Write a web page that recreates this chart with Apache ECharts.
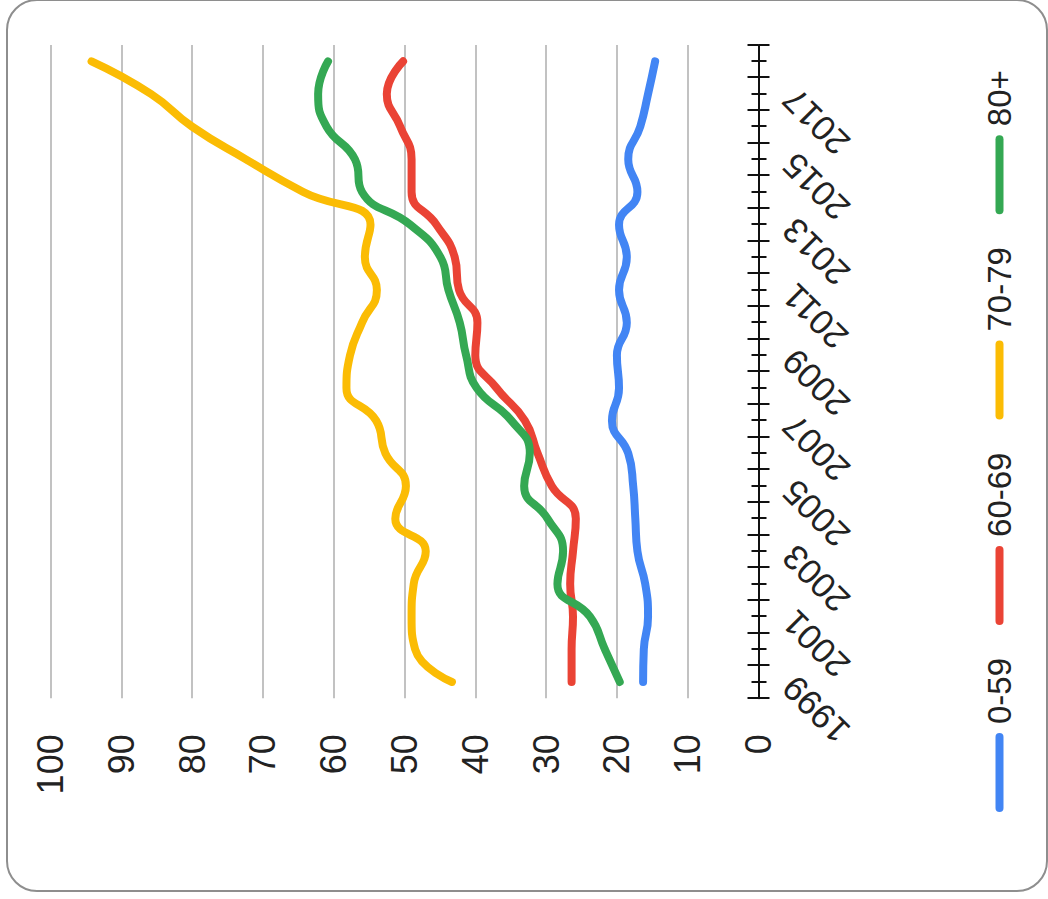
<!DOCTYPE html>
<html>
<head>
<meta charset="utf-8">
<script src="https://cdn.jsdelivr.net/npm/echarts@6/dist/echarts.min.js"></script>
<style>
  html, body { margin: 0; padding: 0; width: 1048px; height: 899px; overflow: hidden; background: #fff; }
  #card { position: absolute; left: 6px; top: -1px; width: 1042px; height: 893px; box-sizing: border-box;
          border: 2px solid #8e8e8e; border-radius: 31px; }
  #rot { position: absolute; left: 0; top: 0; width: 899px; height: 1048px;
         transform-origin: 0 0; transform: translate(0px, 899px) rotate(-90deg); }
</style>
</head>
<body>
<div id="card"></div>
<div id="rot"></div>
<script>
// ---- data ----
const years = ['1999','2000','2001','2002','2003','2004','2005','2006','2007','2008',
               '2009','2010','2011','2012','2013','2014','2015','2016','2017','2018'];
const seriesNames = ['0-59', '60-69', '70-79', '80+'];
const age0to59  = [16.3, 16.2, 15.6, 16.0, 17.1, 17.4, 17.7, 18.4, 20.7, 19.7, 20.0, 18.6, 19.7, 18.6, 19.7, 17.1, 18.4, 16.7, 15.6, 14.6];
const age60to69 = [26.4, 26.4, 26.2, 26.6, 26.2, 25.8, 29.2, 31.2, 33.0, 37.0, 40.0, 39.7, 42.3, 42.9, 45.5, 49.0, 49.0, 50.6, 52.5, 50.2];
const age70to79 = [43.3, 48.5, 49.0, 48.7, 47.0, 51.3, 49.8, 52.7, 54.0, 58.2, 57.7, 56.0, 53.9, 55.6, 54.8, 64.3, 72.4, 80.0, 85.8, 94.2];
const age80plus = [19.6, 21.7, 23.8, 28.4, 27.6, 29.8, 33.1, 32.3, 34.9, 39.8, 41.3, 42.2, 43.8, 44.9, 49.2, 56.0, 57.0, 61.0, 62.2, 60.8];
const valueTicks = { min: 0, max: 100, step: 10 };
const colors = ['#4285F4', '#EA4335', '#FBBC04', '#34A853'];

const font = 'Arial, "Liberation Sans", Helvetica, sans-serif';
const chart = echarts.init(document.getElementById('rot'), null, { renderer: 'svg', width: 899, height: 1048 });

const catBase = { type: 'category', data: years, gridIndex: 0, position: 'bottom', boundaryGap: true };
const option = {
  animation: false,
  backgroundColor: 'transparent',
  textStyle: { fontFamily: font },
  grid: { left: 200.7, right: 45, top: 50.5, bottom: 289.5, containLabel: false },
  legend: {
    data: seriesNames,
    left: 82, top: 978,
    orient: 'horizontal',
    itemWidth: 79, itemHeight: 8, itemGap: 33,
    icon: 'path://M4 0L75 0A4 4 0 0 1 75 8L4 8A4 4 0 0 1 4 0Z',
    textStyle: { fontSize: 33, color: '#222', fontFamily: font, padding: [0, 0, 0, 4] }
  },
  xAxis: [
    Object.assign({}, catBase, {
      axisLine: { show: true, lineStyle: { color: '#111', width: 2 } },
      axisTick: { show: true, interval: 0, length: 11, inside: false, lineStyle: { color: '#111', width: 2 } },
      axisLabel: { show: false }, splitLine: { show: false }
    }),
    Object.assign({}, catBase, {
      axisLine: { show: false },
      axisTick: { show: true, interval: 0, length: 11, inside: true, lineStyle: { color: '#111', width: 2 } },
      axisLabel: { show: false }, splitLine: { show: false }
    }),
    Object.assign({}, catBase, {
      axisLine: { show: false },
      axisTick: { show: true, interval: 0, alignWithLabel: true, length: 8, inside: false, lineStyle: { color: '#111', width: 2 } },
      axisLabel: { show: true, interval: 1, rotate: 45, fontSize: 35, color: '#222', margin: 30, fontFamily: font },
      splitLine: { show: false }
    }),
    Object.assign({}, catBase, {
      axisLine: { show: false },
      axisTick: { show: true, interval: 0, alignWithLabel: true, length: 7, inside: true, lineStyle: { color: '#111', width: 2 } },
      axisLabel: { show: false }, splitLine: { show: false }
    })
  ],
  yAxis: {
    type: 'value', min: valueTicks.min, max: valueTicks.max, interval: valueTicks.step,
    axisLine: { show: false }, axisTick: { show: false },
    axisLabel: { fontSize: 36, color: '#222', margin: 36, fontFamily: font },
    splitLine: { lineStyle: { color: '#c2c2c2', width: 2 } }
  },
  series: [age0to59, age60to69, age70to79, age80plus].map((d, i) => ({
    name: seriesNames[i], type: 'line', data: d, xAxisIndex: 0, yAxisIndex: 0,
    smooth: true, symbol: 'none', showSymbol: false,
    color: colors[i],
    lineStyle: { width: 8, color: colors[i], cap: 'round', join: 'round' },
    z: 3 + i
  }))
};
chart.setOption(option);
</script>
</body>
</html>
